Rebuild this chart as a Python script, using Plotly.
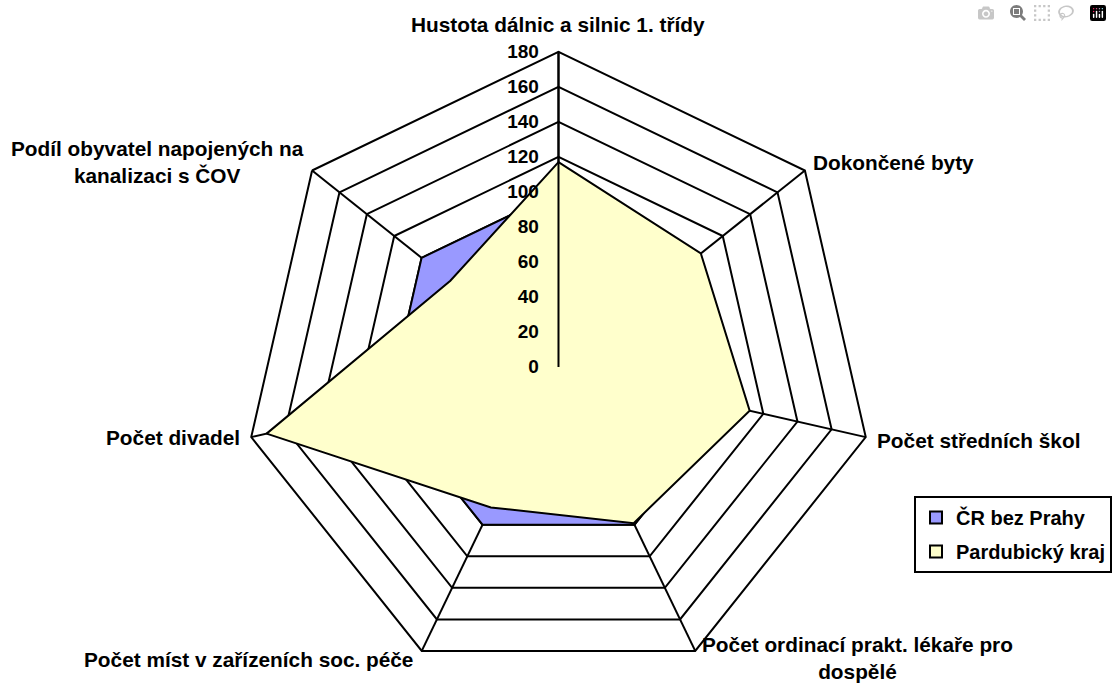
import plotly.graph_objects as go

categories = [
    "Hustota dálnic a silnic 1. třídy",
    "Dokončené byty",
    "Počet středních škol",
    "Počet ordinací prakt. lékaře pro<br>dospělé",
    "Počet míst v zařízeních soc. péče",
    "Počet divadel",
    "Podíl obyvatel napojených na<br>kanalizaci s ČOV",
]
cr_bez_prahy = [100, 100, 100, 100, 100, 100, 100]
pardubicky_kraj = [117, 104, 112, 99, 89, 171, 79]
radial_ticks = [0, 20, 40, 60, 80, 100, 120, 140, 160, 180]
series_names = ["ČR bez Prahy", "Pardubický kraj"]
series_colors = ["#9999FF", "#FFFFCC"]

# label placement (pixel centres in the 1112x683 figure) - layout only
W, H = 1112, 683
label_pos = [(560, 24), (896, 163), (981, 440), (860, 658), (249, 659), (173, 437), (158, 162)]

FONT = "Liberation Sans, Arial, sans-serif"

def closed(v):
    return list(v) + [v[0]]

fig = go.Figure()
for name, vals, col in zip(series_names, [cr_bez_prahy, pardubicky_kraj], series_colors):
    fig.add_trace(go.Scatterpolar(
        r=closed(vals), theta=closed(categories), name=name,
        mode="lines", fill="toself", fillcolor=col,
        line=dict(color="black", width=2), showlegend=False,
    ))
# legend entries (square swatches like the reference)
for i, (name, col) in enumerate(zip(series_names, series_colors)):
    fig.add_trace(go.Scatterpolar(
        r=[None], theta=[categories[0]], name=name, mode="markers",
        marker=dict(symbol="square", size=12, color=col, line=dict(color="black", width=2)),
        legendgroup=f"g{i}", showlegend=True,
    ))

annotations = []
for txt, (px, py) in zip(categories, label_pos):
    annotations.append(dict(
        text=txt, x=px / W, y=1 - py / H, xref="paper", yref="paper",
        xanchor="center", yanchor="middle", align="center", showarrow=False,
        font=dict(family=FONT, size=20.8, color="black", weight="bold"),
    ))

fig.update_layout(
    width=W, height=H,
    margin=dict(l=0, r=0, t=0, b=0),
    paper_bgcolor="white",
    font=dict(family=FONT, size=20, color="black"),
    annotations=annotations,
    polar=dict(
        domain=dict(x=[244/W, 876/W], y=[0, 632/H]),
        gridshape="linear",
        bgcolor="white",
        radialaxis=dict(
            range=[0, 180], tickvals=radial_ticks, angle=90, tickangle=90,
            showline=True, linecolor="black", linewidth=2,
            gridcolor="black", gridwidth=2,
            ticks="outside", ticklen=12, tickcolor="rgba(0,0,0,0)",
            tickfont=dict(family=FONT, size=19, color="black", weight="bold"),
            side="counterclockwise", layer="above traces",
        ),
        angularaxis=dict(
            rotation=90, direction="clockwise",
            showline=True, linecolor="black", linewidth=2,
            gridcolor="black", gridwidth=2, ticks="",
            showticklabels=False,
            layer="above traces",
        ),
    ),
    showlegend=True,
    legend=dict(
        x=1.003, y=1 - 496/H, xanchor="right", yanchor="top",
        bordercolor="black", borderwidth=2, bgcolor="white",
        font=dict(family=FONT, size=20, color="black", weight="bold"),
        tracegroupgap=5, itemwidth=30,
    ),
)

fig.write_html("out.html", post_script="document.body.style.margin='0';")
